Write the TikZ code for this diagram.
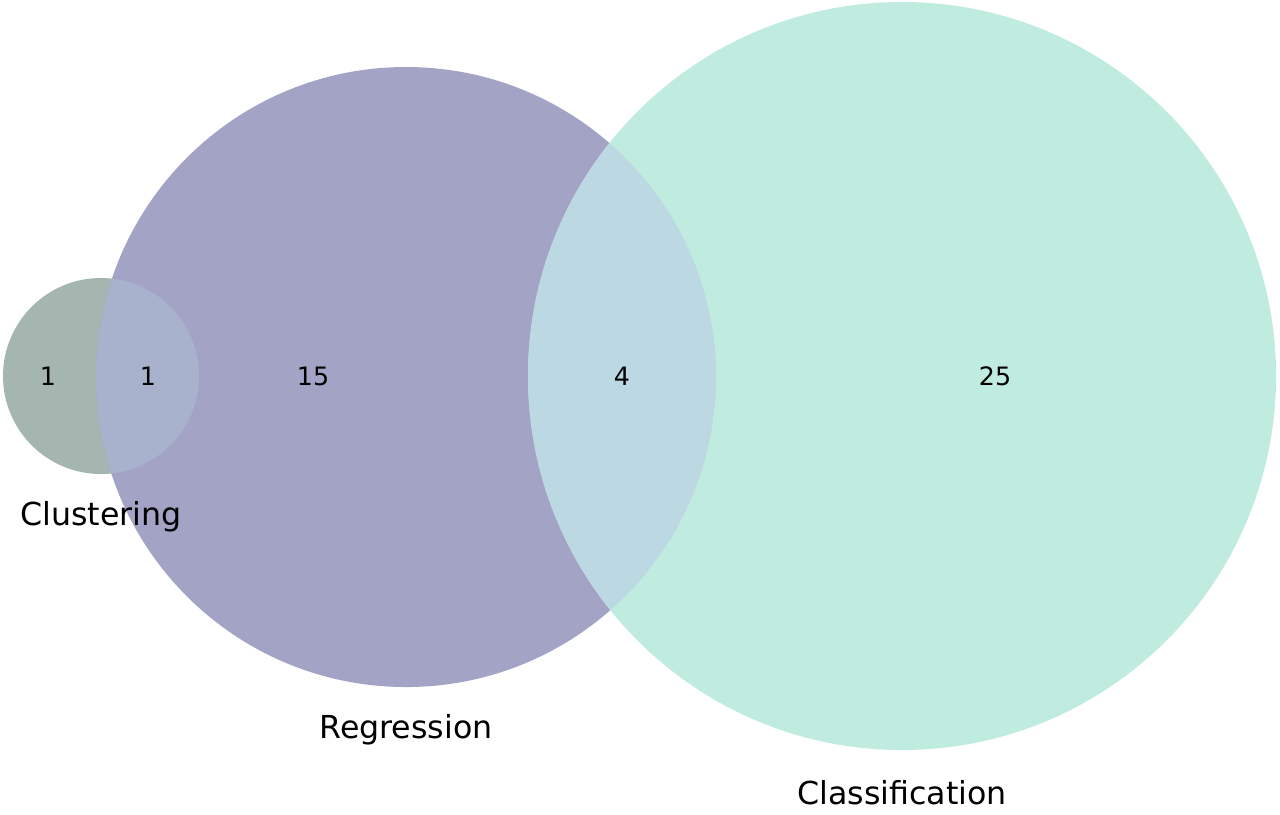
\documentclass[tikz,border=0pt]{standalone}
\usepackage{fontspec}
\setmainfont{DejaVu Sans}
\begin{document}
\begin{tikzpicture}[x=0.01cm,y=-0.01cm,
  num/.style={font=\fontsize{7.2}{8}\selectfont,inner sep=0},
  lab/.style={font=\fontsize{9}{10}\selectfont,inner sep=0}]
\useasboundingbox (0,0) rectangle (1280,814);
\fill[white] (0,0) rectangle (1280,814);
\def\cluP{(101,376) circle (98)}
\def\regP{(406,377) circle (310)}
\def\claP{(902,376) circle (374)}
\fill[color={rgb,255:red,165;green,181;blue,176}] \cluP;
\fill[color={rgb,255:red,162;green,163;blue,197}] \regP;
\fill[color={rgb,255:red,192;green,235;blue,223}] \claP;
\begin{scope}\clip \regP; \fill[color={rgb,255:red,188;green,217;blue,227}] \claP; \end{scope}
\begin{scope}\clip \regP; \fill[color={rgb,255:red,169;green,178;blue,204}] \cluP; \end{scope}
\node[num] (n1) at (48,376) {1};
\node[num] (n2) at (148,376) {1};
\node[num] (n3) at (313,376) {15};
\node[num] (n4) at (622,376) {4};
\node[num] (n5) at (995,376) {25};
\node[lab] (l1) at (101,517) {Clustering};
\node[lab] (l2) at (406,730) {Regression};
\node[lab] (l3) at (902,793) {Classification};
\end{tikzpicture}
\end{document}
